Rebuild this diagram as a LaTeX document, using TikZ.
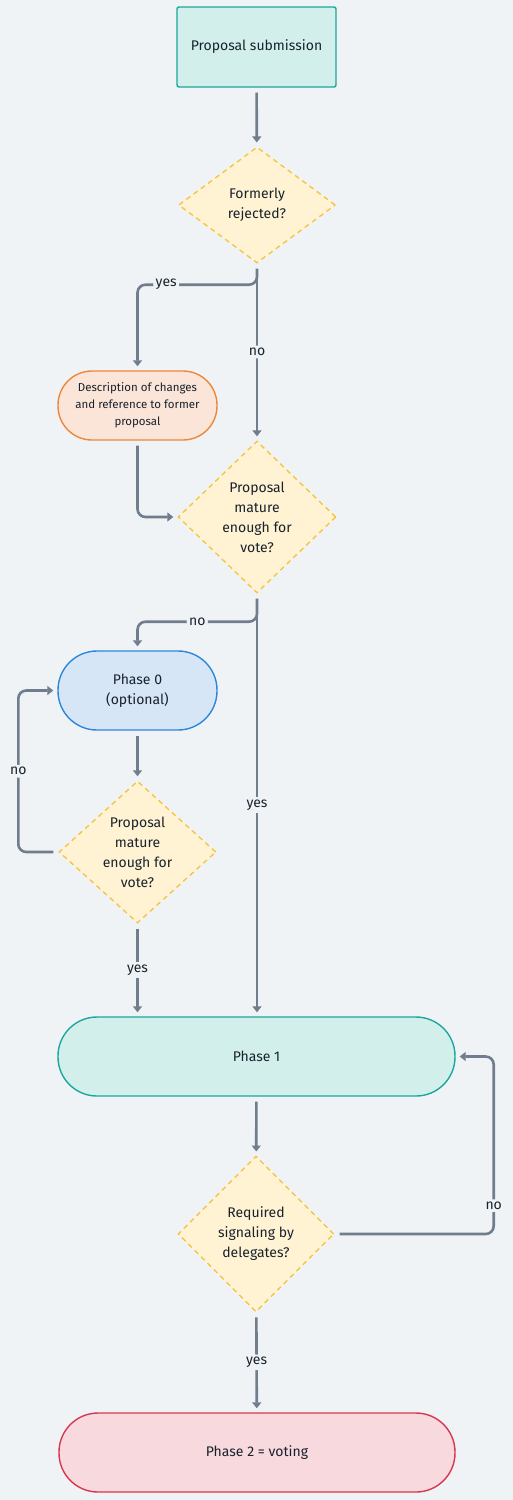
\documentclass[tikz,border=0pt]{standalone}
\usepackage{fontspec}
\setmainfont{Fira Sans}
\usetikzlibrary{arrows.meta, shapes.geometric}

\begin{document}
\begin{tikzpicture}[x=1pt, y=-1pt,
    every node/.style={font=\fontsize{14}{20}\selectfont, text=ink, align=center},
    base/.style={line width=1.4pt, inner sep=0pt},
    box/.style={base, rectangle, rounded corners=2pt, minimum width=159pt, minimum height=80pt, fill=tealfill, draw=tealline},
    pill/.style={base, rectangle, rounded corners=39pt, minimum width=159pt, minimum height=79pt},
    decision/.style={base, diamond, minimum width=157pt, fill=yelfill, draw=yelline, dash pattern=on 5pt off 4pt},
    flow/.style={draw=wire, line width=2.6pt, rounded corners=8pt, shorten <=5pt, shorten >=4pt,
      -{Triangle[width=9pt,length=6pt]}},
    lbl/.style={fill=bg, inner sep=2.5pt, font=\fontsize{14}{16}\selectfont}]
      \definecolor{bg}{HTML}{F0F3F6}
      \definecolor{ink}{HTML}{18222D}
      \definecolor{wire}{HTML}{6F7D8C}
      \definecolor{tealfill}{HTML}{D3EFEC}
      \definecolor{tealline}{HTML}{1AA89B}
      \definecolor{yelfill}{HTML}{FFF3D3}
      \definecolor{yelline}{HTML}{F7C543}
      \definecolor{orfill}{HTML}{FBE5D8}
      \definecolor{orline}{HTML}{EE8839}
      \definecolor{blfill}{HTML}{D6E6F6}
      \definecolor{blline}{HTML}{2B87DA}
      \definecolor{rdfill}{HTML}{F8D9DE}
      \definecolor{rdline}{HTML}{D7374F}
      \fill[bg] (0,0) rectangle (513,1500);

      \node[box] (submit) at (256.5,47) {Proposal submission};
      \node[decision, minimum height=116pt] (rejected) at (257,205) {Formerly\\rejected?};
      \node[pill, fill=orfill, draw=orline, minimum height=69pt, rounded corners=34pt,
        font=\fontsize{11.5}{17}\selectfont] (changes) at (137.5,405.5)
        {Description of changes\\and reference to former\\proposal};
      \node[decision, minimum width=158pt, minimum height=152pt] (mature) at (257,517)
        {Proposal\\mature\\enough for\\vote?};
      \node[pill, fill=blfill, draw=blline] (phase0) at (137.5,690.5) {Phase 0\\(optional)};
      \node[decision, minimum height=142pt] (mature0) at (137.5,852)
        {Proposal\\mature\\enough for\\vote?};
      \node[pill, fill=tealfill, draw=tealline, minimum width=397pt] (phase1) at (256.5,1056.5) {Phase 1};
      \node[decision, minimum width=156pt, minimum height=156pt] (signal) at (256,1234)
        {Required\\signaling by\\delegates?};
      \node[pill, fill=rdfill, draw=rdline, minimum width=396pt] (phase2) at (257,1452.5) {Phase 2 = voting};

      \draw[flow] (submit) -- (rejected);
      \draw[flow] (rejected.south) -- ++(0,21) -| node[lbl, pos=0.38] {yes} (changes.north);
      \draw[flow] (rejected) -- node[lbl] {no} (mature);
      \draw[flow] (changes.south) |- (mature.west);
      \draw[flow] (mature.south) -- ++(0,28) -| node[lbl, pos=0.25] {no} (phase0.north);
      \draw[flow] (mature.south) -- node[lbl] {yes} (mature.south |- phase1.north);
      \draw[flow] (phase0) -- (mature0);
      \draw[flow] (mature0.west) -- ++(-40,0) |- node[lbl, pos=0.25] {no} (phase0.west);
      \draw[flow] (mature0.south) -- node[lbl] {yes} (mature0.south |- phase1.north);
      \draw[flow] (phase1) -- (signal);
      \draw[flow] (signal.east) -- ++(159,0) |- node[lbl, pos=0.08] {no} (phase1.east);
      \draw[flow] (signal) -- node[lbl] {yes} (phase2);
\end{tikzpicture}
\end{document}
